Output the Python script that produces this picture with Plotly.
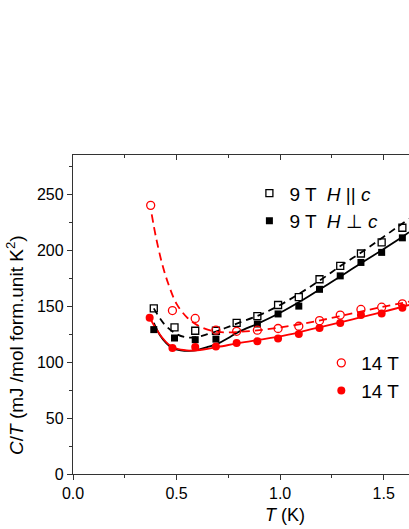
import plotly.graph_objects as go

# ---- data ----
T_par = [0.39, 0.49, 0.59, 0.69, 0.79, 0.89, 0.99, 1.09, 1.19, 1.29, 1.39, 1.49, 1.59]
C_par = [148, 131, 128, 128, 135, 141, 151, 158, 174, 186, 197, 207, 220]

T_perp = [0.39, 0.49, 0.59, 0.69, 0.89, 0.99, 1.09, 1.19, 1.29, 1.39, 1.49, 1.59]
C_perp = [129, 121.5, 120, 120.5, 134, 143, 150, 165, 177, 189, 198, 211]

T_14o = [0.375, 0.48, 0.59, 0.69, 0.79, 0.89, 0.99, 1.09, 1.19, 1.29, 1.39, 1.49, 1.59]
C_14o = [240, 146, 139, 128.5, 127.5, 128.5, 130, 132, 137, 142, 147, 149, 152]

T_14f = [0.37, 0.48, 0.59, 0.69, 0.79, 0.89, 0.99, 1.09, 1.19, 1.29, 1.39, 1.49, 1.59]
C_14f = [139.5, 112.5, 113.5, 114, 117, 118.5, 121, 125, 130.5, 135, 142, 143.5, 148.5]

# fit curves
fit_par_T = [0.39, 0.42, 0.45, 0.50, 0.55, 0.60, 0.65, 0.70, 0.75, 0.80, 0.90, 1.00, 1.10, 1.20, 1.30, 1.40, 1.50, 1.622]
fit_par_C = [148, 139, 132, 125, 122, 122.5, 125, 128, 131.5, 135, 142, 151, 162, 174, 187, 199, 212, 228]

fit_perp_T = [0.39, 0.42, 0.45, 0.48, 0.52, 0.56, 0.60, 0.65, 0.70, 0.75, 0.80, 0.90, 1.00, 1.10, 1.20, 1.30, 1.40, 1.50, 1.60, 1.622]
fit_perp_C = [135, 124, 117, 112.5, 110.5, 110, 110.7, 113.5, 116.5, 121.5, 127, 135, 144, 154.5, 166, 177.5, 189.5, 201, 213, 216]

fit_14o_T = [0.38, 0.40, 0.43, 0.46, 0.50, 0.55, 0.60, 0.65, 0.70, 0.75, 0.80, 0.90, 1.00, 1.10, 1.20, 1.30, 1.40, 1.50, 1.622]
fit_14o_C = [232, 212, 188, 170, 152, 140, 133, 129, 127, 126.5, 127, 128.5, 131, 134, 137.5, 141.5, 145.5, 149.5, 154]

fit_14f_T = [0.375, 0.40, 0.43, 0.46, 0.50, 0.55, 0.60, 0.70, 0.80, 0.90, 1.00, 1.10, 1.20, 1.30, 1.40, 1.50, 1.622]
fit_14f_C = [138, 130, 122, 116, 112, 110.5, 110.5, 113.5, 117, 120, 123, 127, 131.5, 136, 140.5, 145, 151]

x_ticks = [0.0, 0.5, 1.0, 1.5]
y_ticks = [0, 50, 100, 150, 200, 250]

FONT = "Liberation Sans, Arial, sans-serif"
RED = "#ff0000"

fig = go.Figure()

# fit lines
fig.add_trace(go.Scatter(x=fit_par_T, y=fit_par_C, mode="lines", line=dict(color="black", width=1.8, dash="7px,5px", shape="spline"), showlegend=False))
fig.add_trace(go.Scatter(x=fit_perp_T, y=fit_perp_C, mode="lines", line=dict(color="black", width=1.8, shape="spline"), showlegend=False))
fig.add_trace(go.Scatter(x=fit_14o_T, y=fit_14o_C, mode="lines", line=dict(color=RED, width=1.8, dash="8px,5px", shape="spline"), showlegend=False))
fig.add_trace(go.Scatter(x=fit_14f_T, y=fit_14f_C, mode="lines", line=dict(color=RED, width=1.8, shape="spline"), showlegend=False))

# data markers
fig.add_trace(go.Scatter(x=T_par, y=C_par, mode="markers", name="9 T  <i>H</i> || <i>c</i>",
                         marker=dict(symbol="square-open", size=7, color="black", line=dict(width=1.3)), legend="legend"))
fig.add_trace(go.Scatter(x=T_perp, y=C_perp, mode="markers", name="9 T  <i>H</i> \u22a5 <i>c</i>",
                         marker=dict(symbol="square", size=7, color="black"), legend="legend"))
fig.add_trace(go.Scatter(x=T_14o, y=C_14o, mode="markers", name="14 T",
                         marker=dict(symbol="circle-open", size=8, color=RED, line=dict(width=1.3)), legend="legend2"))
fig.add_trace(go.Scatter(x=T_14f, y=C_14f, mode="markers", name="14 T",
                         marker=dict(symbol="circle", size=8, color=RED), legend="legend2"))

# invisible trace to carry the top axis
fig.add_trace(go.Scatter(x=[0], y=[0], xaxis="x2", mode="markers", marker=dict(opacity=0), showlegend=False, hoverinfo="skip"))

axis_color = "#333333"
fig.update_layout(
    width=409, height=529,
    margin=dict(l=73, r=0, t=155, b=55),
    paper_bgcolor="white", plot_bgcolor="white",
    font=dict(family=FONT, size=16, color="black"),
    xaxis=dict(range=[0, 1.622], tickvals=x_ticks, ticktext=[f"{v:.1f}" for v in x_ticks],
               showgrid=False, zeroline=False, showline=True, linecolor=axis_color, linewidth=1.3,
               ticks="outside", ticklen=5, tickwidth=1.3, tickcolor=axis_color,
               minor=dict(dtick=0.25, tick0=0, ticks="outside", ticklen=3, tickwidth=1.3, tickcolor=axis_color),
               tickfont=dict(size=16, family=FONT)),
    xaxis2=dict(range=[0, 1.622], overlaying="x", side="top", showticklabels=False,
                tickvals=x_ticks, showgrid=False, zeroline=False, showline=True, linecolor=axis_color, linewidth=1.3,
                ticks="inside", ticklen=5, tickwidth=1.3, tickcolor=axis_color,
                minor=dict(dtick=0.25, tick0=0, ticks="inside", ticklen=3, tickwidth=1.3, tickcolor=axis_color)),
    yaxis=dict(range=[0, 285], tickvals=y_ticks, showgrid=False, zeroline=False, showline=True,
               linecolor=axis_color, linewidth=1.3, ticks="outside", ticklen=5, tickwidth=1.3, tickcolor=axis_color,
               minor=dict(dtick=25, tick0=0, ticks="outside", ticklen=3, tickwidth=1.3, tickcolor=axis_color),
               tickfont=dict(size=16, family=FONT)),
    legend=dict(x=0.525, y=0.836, xanchor="left", yanchor="middle", bgcolor="rgba(0,0,0,0)",
                font=dict(size=19, family=FONT), itemwidth=30, tracegroupgap=0),
    legend2=dict(x=0.739, y=0.304, xanchor="left", yanchor="middle", bgcolor="rgba(0,0,0,0)",
                 font=dict(size=19, family=FONT), itemwidth=30, tracegroupgap=0),
    annotations=[
        dict(text="<i>C</i>/<i>T</i> (mJ /mol form.unit K<sup>2</sup>)", xref="paper", yref="paper",
             x=-0.173, y=0.404, textangle=-90, showarrow=False, xanchor="center", yanchor="middle",
             font=dict(size=19, family=FONT)),
        dict(text="<i>T</i> (K)", xref="paper", yref="paper", x=0.631, y=-0.128, showarrow=False,
             xanchor="center", yanchor="middle", font=dict(size=18, family=FONT)),
    ],
)

fig.write_html("out.html", config={"displayModeBar": False},
               post_script="document.body.style.margin='0';document.body.style.padding='0';")
